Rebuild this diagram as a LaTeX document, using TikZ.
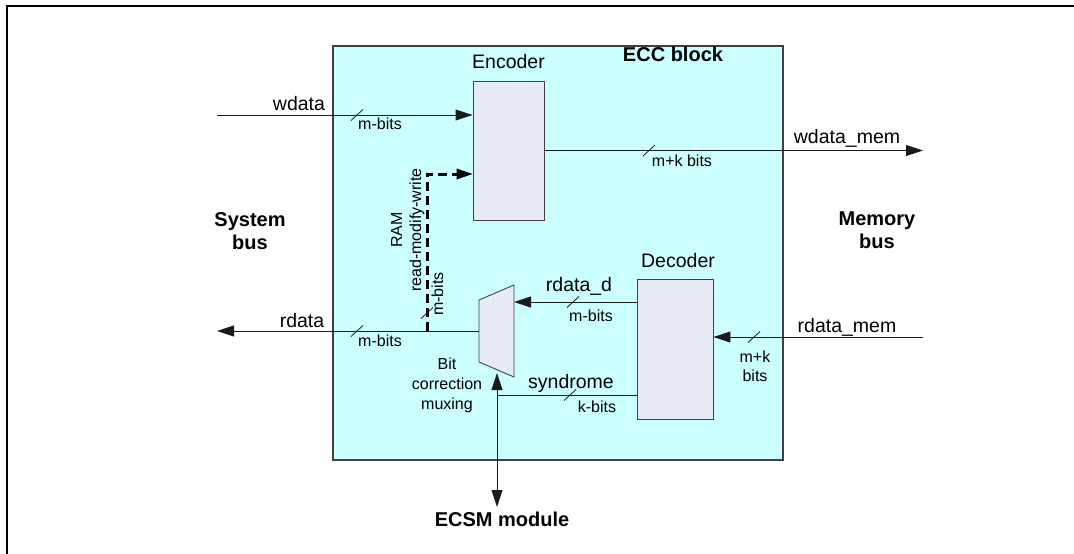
\documentclass[tikz,border=0pt]{standalone}
\usepackage{fontspec}
\setmainfont{Liberation Sans}
\usetikzlibrary{arrows.meta}
\definecolor{eccfill}{HTML}{CCFFFF}
\definecolor{blkfill}{HTML}{E6EBF5}
\definecolor{blkedge}{HTML}{404040}
\definecolor{wire}{HTML}{1A1A1A}

\begin{document}
\begin{tikzpicture}[x=1pt,y=-1pt,
  lbl/.style={inner sep=0pt,font=\fontsize{19.5}{22}\selectfont,anchor=base},
  sml/.style={inner sep=0pt,font=\fontsize{16}{20}\selectfont,anchor=base},
  bold/.style={inner sep=0pt,font=\bfseries\fontsize{20}{23}\selectfont,align=center},
  block/.style={draw=blkedge,fill=blkfill,line width=0.9pt,inner sep=0pt},
  wireline/.style={draw=wire,line width=0.9pt},
  tip/.style={Triangle[length=17pt,width=11pt]},
  arr/.style={wireline,-{Triangle[length=17pt,width=11pt]}},
  dualarr/.style={wireline,{Triangle[length=17pt,width=11pt]}-{Triangle[length=17pt,width=11pt]}},
  rmwpath/.style={draw=black,line width=3pt,dash pattern=on 9pt off 5pt,
    -{Triangle[length=16pt,width=11pt,line width=0pt]}},
  slashmark/.pic={\draw[draw=wire,line width=0.8pt] (-6,5.5) -- (6,-5.5);}
]
\useasboundingbox (0,0) rectangle (1074,554);

% page frame
\draw[line width=2pt] (7,560) -- (7,5.5) -- (1080,5.5);

% ECC block
\node[draw=blkedge,fill=eccfill,line width=1.2pt,minimum width=450pt,minimum height=414pt,inner sep=0pt]
  (ecc) at (558,253) {};
\node[bold,anchor=base] (ecclbl) at (673,61) {ECC block};

% encoder and decoder
\node[block,minimum width=71pt,minimum height=139pt] (enc) at (508.5,150.5) {};
\node[lbl] (enclbl) at (508.5,68) {Encoder};
\node[block,minimum width=76pt,minimum height=140pt] (dec) at (675,349) {};
\node[lbl] (declbl) at (678,267) {Decoder};

% bit correction multiplexer
\coordinate (muxtl) at (479,300);
\coordinate (muxtr) at (514,285);
\coordinate (muxbr) at (514,377);
\coordinate (muxbl) at (479,362);
\draw[block] (muxtl) -- (muxtr) -- (muxbr) -- (muxbl) -- cycle;
\coordinate (muxout) at (479,331);
\coordinate (muxin) at (514,302);
\coordinate (muxsel) at (497,373);

% bus side labels
\node[bold,anchor=north] (sysbus) at (250,212) {System\\bus};
\node[bold,anchor=north] (membus) at (877,212) {Memory\\bus};
\node[bold,anchor=base] (ecsm) at (502,526) {ECSM module};

% write path
\coordinate (wdin) at (217,115);
\coordinate (wdout) at (923,150.5);
\draw[arr] (wdin) -- (enc.west |- wdin);
\draw[arr] (enc.east) -- (wdout);
\path (357,115) pic {slashmark};
\path (649,150.5) pic {slashmark};
\node[lbl] (wdlbl) at (299,110) {wdata};
\node[sml] (wdbits) at (380,129) {m-bits};
\node[lbl] (wdmlbl) at (847,143) {wdata\_mem};
\node[sml] (wdmbits) at (682,166) {m+k bits};

% read path
\coordinate (rdin) at (923,337);
\coordinate (rdout) at (217,331);
\draw[arr] (rdin) -- (dec.east |- rdin);
\draw[arr] (dec.west |- muxin) -- (muxin);
\draw[arr] (muxout) -- (rdout);
\path (754,337) pic {slashmark};
\path (573,302) pic {slashmark};
\path (357,331) pic {slashmark};
\node[lbl] (rdmlbl) at (847,332) {rdata\_mem};
\node[sml,anchor=north,align=center,font=\fontsize{16}{19}\selectfont] (rdmbits) at (755,350.5) {m+k\\bits};
\node[lbl] (rddlbl) at (579,291) {rdata\_d};
\node[sml] (rddbits) at (591,321) {m-bits};
\node[lbl] (rdlbl) at (302,327) {rdata};
\node[sml] (rdbits) at (380,346) {m-bits};
\node[sml,anchor=north,align=center] (muxlbl) at (447,357.5) {Bit\\correction\\muxing};

% syndrome and error reporting
\coordinate (synj) at (497,395);
\coordinate (ecsmtip) at (497,507);
\draw[wireline] (dec.west |- synj) -- (synj);
\draw[dualarr] (muxsel) -- (ecsmtip);
\path (570,395) pic {slashmark};
\node[lbl] (synlbl) at (571,388) {syndrome};
\node[sml] (synbits) at (597,412) {k-bits};

% read-modify-write feedback
\coordinate (rmwtap) at (427,331);
\coordinate (rmwturn) at (427,174);
\draw[rmwpath] (rmwtap) -- (rmwturn) -- (enc.west |- rmwturn);
\path (427,313) pic {slashmark};
\node[sml,rotate=90] (ramlbl) at (402,230) {RAM};
\node[sml,rotate=90] (rmwlbl) at (421,230) {read-modify-write};
\node[sml,rotate=90] (rmwbits) at (443,294) {m-bits};
\end{tikzpicture}
\end{document}
